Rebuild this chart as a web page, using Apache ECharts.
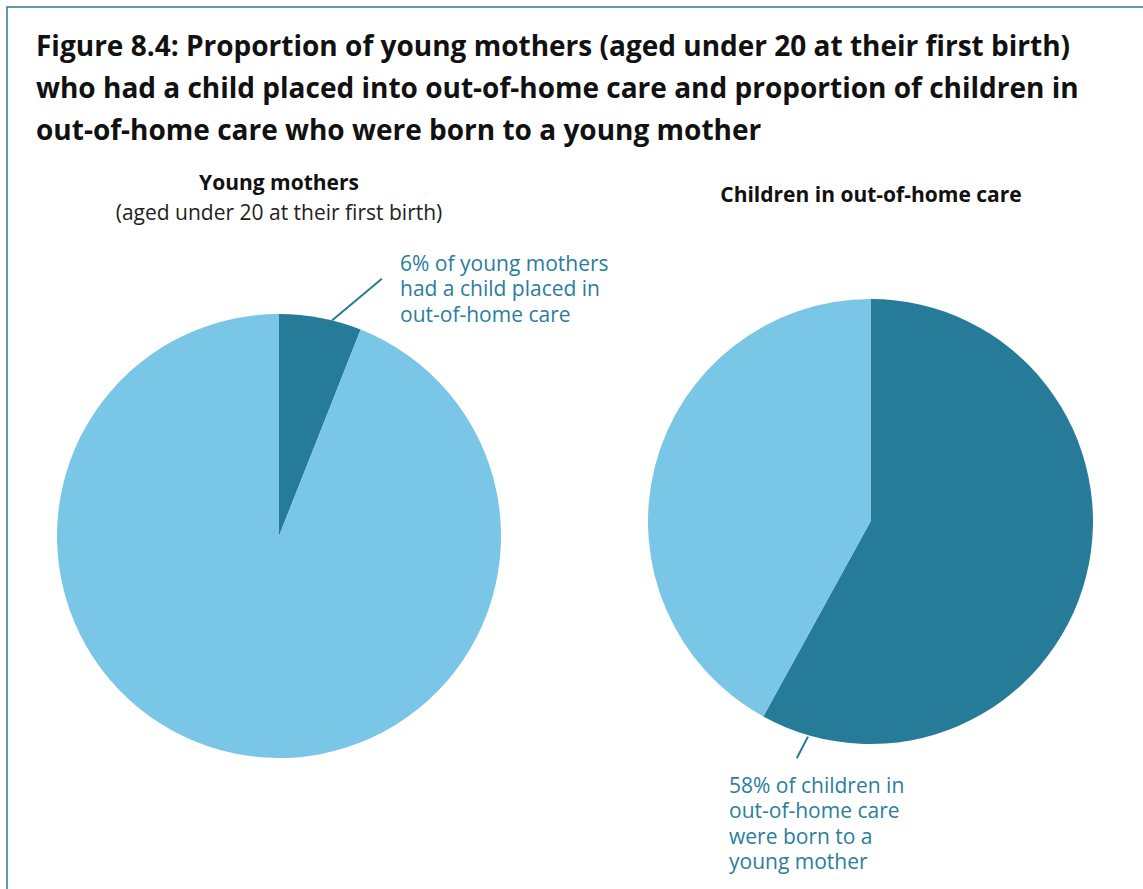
<!DOCTYPE html>
<html lang="en">
  <head>
    <meta charset="UTF-8" />
    <title>Figure 8.4</title>
    <style>
      html, body { margin: 0; padding: 0; background: #fff; }
    </style>
  </head>
  <body>
    <div id="main" style="width: 1143px; height: 889px"></div>
    <script src="https://cdn.jsdelivr.net/npm/echarts@6.0.0/dist/echarts.min.js"></script>
    <script>
      // data
      const youngMotherNames = ['Had a child placed into out-of-home care', 'Did not']
      const youngMotherValues = [6, 94]
      const childrenNames = ['Born to a young mother', 'Not born to a young mother']
      const childrenValues = [58, 42]
      const labelTexts = [
        '6% of young mothers\nhad a child placed in\nout-of-home care',
        '58% of children in\nout-of-home care\nwere born to a\nyoung mother'
      ]

      const DARK = '#267b98'
      const LIGHT = '#79c6e7'
      const TEXT_TEAL = '#2a7e9c'
      const FONT = '"Open Sans", "Noto Sans", sans-serif'

      const pies = [
        { center: [279, 536], r: 222, label: [400, 250], line: [[13.8, 222], [21.8, 277]] },
        { center: [870.5, 521.5], r: 222.5, label: [729, 772], line: [[196.2, 224], [197.3, 248]] }
      ]

      // angle measured clockwise from top
      const polar = (c, ang, dist) => {
        const a = (ang * Math.PI) / 180
        return [c[0] + dist * Math.sin(a), c[1] - dist * Math.cos(a)]
      }

      const myChart = echarts.init(document.getElementById('main'), null, {
        renderer: 'svg'
      })

      const makeSeries = (idx, names, values) => ({
        type: 'pie',
        center: pies[idx].center,
        radius: pies[idx].r,
        startAngle: 90,
        clockwise: true,
        silent: true,
        animation: false,
        avoidLabelOverlap: false,
        itemStyle: { borderWidth: 0 },
        label: { show: false },
        labelLine: { show: false },
        labelLayout: params => {
          if (params.dataIndex !== 0) return {}
          const p = pies[idx]
          return {
            x: p.label[0],
            y: p.label[1],
            align: 'left',
            verticalAlign: 'top',
            labelLinePoints: p.line.map(([ang, d]) => polar(p.center, ang, d))
          }
        },
        data: names.map((name, i) => ({
          name,
          value: values[i],
          itemStyle: { color: i === 0 ? DARK : LIGHT },
          label: {
            show: i === 0,
            formatter: labelTexts[idx],
            color: TEXT_TEAL,
            fontFamily: FONT,
            fontSize: 21,
            lineHeight: 25.5,
            width: 300,
            overflow: 'none'
          },
          labelLine: {
            show: i === 0,
            lineStyle: { color: DARK, width: 2 }
          }
        }))
      })

      const option = {
        title: [
          {
            text: 'Figure 8.4: Proportion of young mothers (aged under 20 at their first birth)\nwho had a child placed into out-of-home care and proportion of children in\nout-of-home care who were born to a young mother',
            left: 36,
            top: 24,
            padding: 0,
            textStyle: {
              fontFamily: FONT,
              fontSize: 28,
              fontWeight: 'bold',
              lineHeight: 42,
              color: '#111'
            }
          },
          {
            text: 'Young mothers',
            subtext: '(aged under 20 at their first birth)',
            left: 279,
            top: 171,
            textAlign: 'center',
            padding: 0,
            itemGap: 9,
            textStyle: { fontFamily: FONT, fontSize: 21, fontWeight: 'bold', color: '#111' },
            subtextStyle: { fontFamily: FONT, fontSize: 21, color: '#222' }
          },
          {
            text: 'Children in out-of-home care',
            left: 871,
            top: 183,
            textAlign: 'center',
            padding: 0,
            textStyle: { fontFamily: FONT, fontSize: 21, fontWeight: 'bold', color: '#111' }
          }
        ],
        graphic: [
          {
            type: 'rect',
            silent: true,
            shape: { x: 7, y: 7, width: 1400, height: 1200 },
            style: { fill: 'none', stroke: '#2b7a98', lineWidth: 1.5 }
          }
        ],
        series: [
          makeSeries(0, youngMotherNames, youngMotherValues),
          makeSeries(1, childrenNames, childrenValues)
        ]
      }

      myChart.setOption(option)
    </script>
  </body>
</html>
